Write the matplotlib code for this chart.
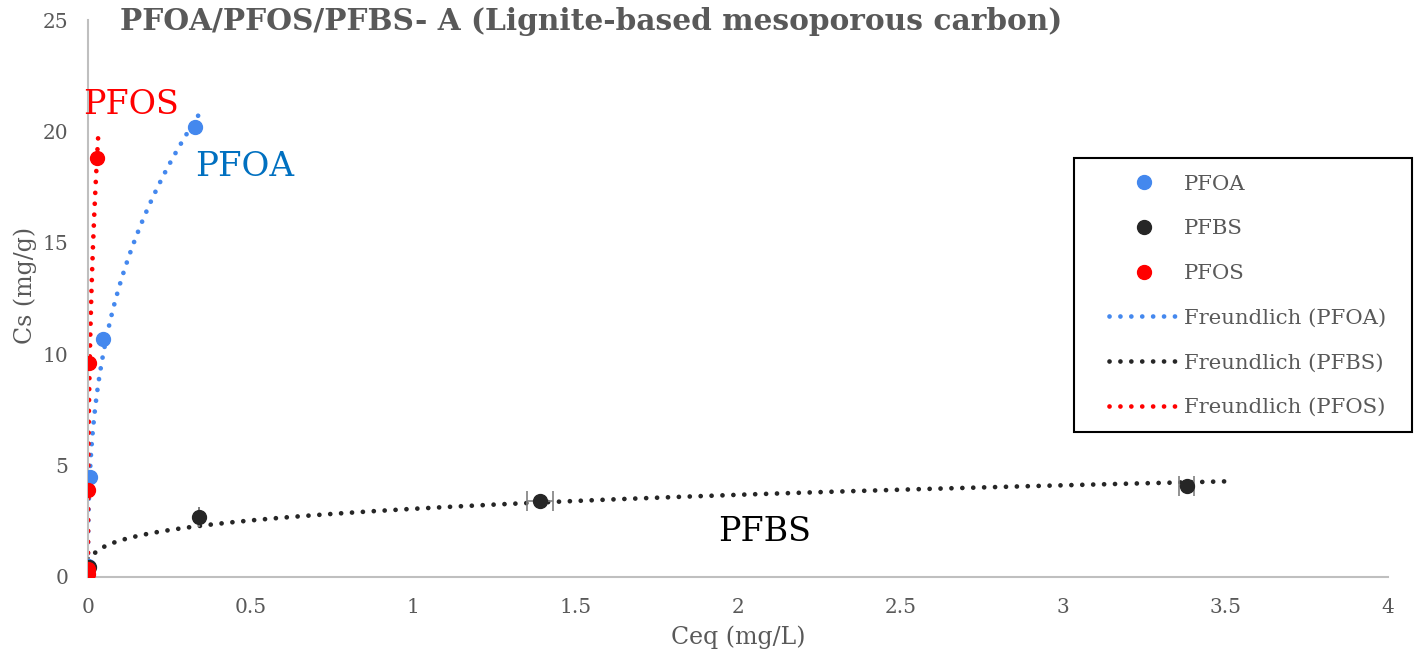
import numpy as np
import matplotlib.pyplot as plt
from matplotlib.patches import Rectangle

plt.rcParams['font.family'] = ['DejaVu Serif']

# measured points (Ceq mg/L, Cs mg/g)
pfoa_x = [0.0001, 0.005, 0.045, 0.33]
pfoa_y = [0.5, 4.5, 10.7, 20.2]

pfbs_x = [0.004, 0.34, 1.39, 3.38]
pfbs_y = [0.45, 2.7, 3.4, 4.1]
pfbs_xerr = [0.0, 0.0, 0.04, 0.023]

pfos_x = [0.0001, 0.0001, 0.0001, 0.004, 0.028]
pfos_y = [0.15, 0.35, 3.9, 9.6, 18.8]

# Freundlich fits Cs = K * Ceq^(1/n), read from the trendlines
pfoa_K, pfoa_inv_n, pfoa_range = 30.8, 0.367, (0.00002, 0.34)
pfbs_K, pfbs_inv_n, pfbs_range = 3.06, 0.27, (0.004, 3.5)
pfos_K, pfos_inv_n, pfos_range = 79.0, 0.40, (0.000005, 0.031)

blue = '#4488EE'
black = '#262626'
red = '#FF0000'
gray = '#595959'

W, H = 1416, 652
fig = plt.figure(figsize=(W / 100, H / 100), dpi=100)
ax = fig.add_axes([88 / W, 75 / H, 1300 / W, 557 / H])


def fit_curve(K, inv_n, rng):
    x = np.geomspace(rng[0], rng[1], 400)
    return x, K * x ** inv_n


dots = dict(linestyle=(0, (0.01, 2.3)), dash_capstyle='round', lw=3.4)
f1, = ax.plot(*fit_curve(pfoa_K, pfoa_inv_n, pfoa_range), color=blue, label='Freundlich (PFOA)', zorder=2, **dots)
f2, = ax.plot(*fit_curve(pfbs_K, pfbs_inv_n, pfbs_range), color=black, label='Freundlich (PFBS)', zorder=2, **dots)
f3, = ax.plot(*fit_curve(pfos_K, pfos_inv_n, pfos_range), color=red, label='Freundlich (PFOS)', zorder=2, **dots)

ax.errorbar(pfbs_x, pfbs_y, xerr=pfbs_xerr, fmt='none', ecolor='#7f7f7f', elinewidth=1.2, capsize=7, capthick=1.2, zorder=3)
h1, = ax.plot(pfoa_x, pfoa_y, 'o', color=blue, ms=10, label='PFOA', zorder=4)
h2, = ax.plot(pfbs_x, pfbs_y, 'o', color=black, ms=10, label='PFBS', zorder=4)
h3, = ax.plot(pfos_x, pfos_y, 'o', color=red, ms=10, label='PFOS', zorder=5)

ax.set_xlim(0, 4)
ax.set_ylim(0, 25)
ax.set_xticks(np.arange(0, 4.01, 0.5))
ax.set_xticklabels(['0', '0.5', '1', '1.5', '2', '2.5', '3', '3.5', '4'])
ax.set_yticks(np.arange(0, 26, 5))
for s in ['top', 'right']:
    ax.spines[s].set_visible(False)
for s in ['left', 'bottom']:
    ax.spines[s].set_color('#bfbfbf')
    ax.spines[s].set_linewidth(1.5)
ax.tick_params(length=0, labelsize=14.5, labelcolor=gray)
ax.tick_params(axis='x', pad=15)
ax.tick_params(axis='y', pad=14)
ax.set_xlabel('Ceq (mg/L)', fontsize=17, color=gray)
ax.set_ylabel('Cs (mg/g)', fontsize=17, color=gray)
ax.xaxis.set_label_coords(0.5, -(637 - 577) / 557, transform=ax.transAxes)
ax.yaxis.set_label_coords(-(88 - 25) / 1300, (577 - 285) / 557)
ax.xaxis.label.set_va('center')
ax.yaxis.label.set_va('center')

fig.text(120 / W, 1 - 22 / H, 'PFOA/PFOS/PFBS- A (Lignite-based mesoporous carbon)',
         fontsize=21.3, fontweight='bold', color=gray, va='center', ha='left')

ax.text(-0.016, 21.2, 'PFOS', color=red, fontsize=24, ha='left', va='center')
ax.text(0.33, 18.4, 'PFOA', color='#0070C0', fontsize=24.5, ha='left', va='center')
ax.text(1.94, 2.0, 'PFBS', color='black', fontsize=24, ha='left', va='center')

leg = ax.legend(handles=[h1, h2, h3, f1, f2, f3],
                loc='upper left', bbox_to_anchor=(1098 / W, 1 - 164 / H), bbox_transform=fig.transFigure,
                fontsize=15.3, frameon=False, labelspacing=1.21,
                handlelength=3.3, handletextpad=0.25, borderpad=0.0, labelcolor=gray)
fig.patches.append(Rectangle((1074 / W, 1 - 432 / H), (1412 - 1074) / W, (432 - 158) / H,
                             transform=fig.transFigure, fill=False, edgecolor='black', lw=1.5))

fig.savefig('out.png', dpi=100)
